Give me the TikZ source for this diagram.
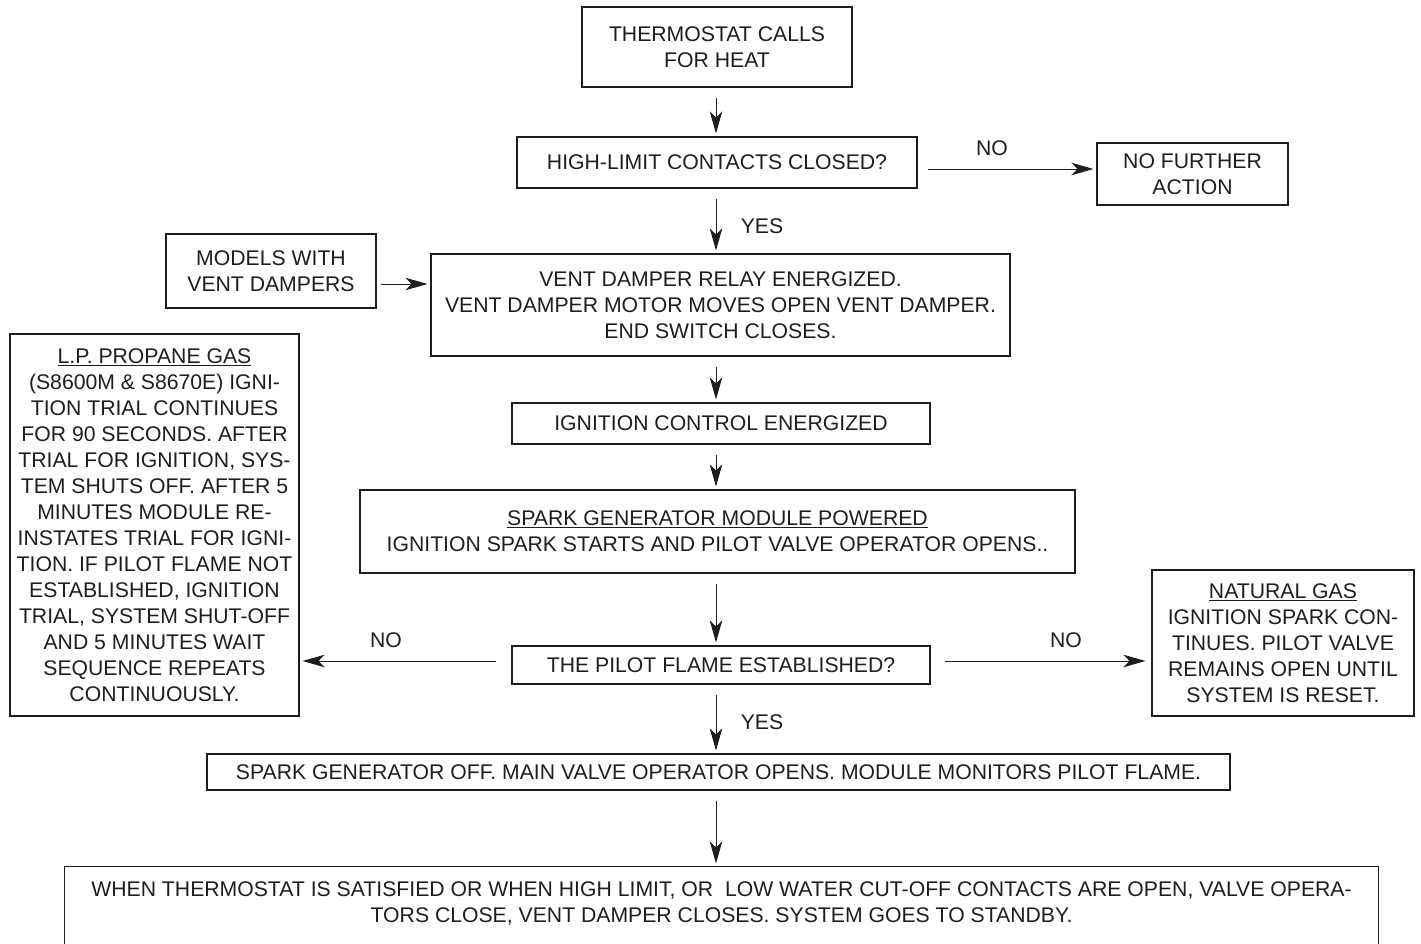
\documentclass[tikz,border=0pt]{standalone}
\usepackage{fontspec}
\setmainfont{Liberation Sans}
\usetikzlibrary{arrows.meta}
\definecolor{ink}{HTML}{1E1E1E}
\tikzset{
  box/.style={draw=ink, line width=1.1pt, text=ink, align=center, inner sep=0pt,
    font=\fontsize{21.2}{26}\selectfont},
  lbl/.style={text=ink, inner sep=0pt, font=\fontsize{21.2}{26}\selectfont},
  arr/.style={draw=ink, line width=1pt, -{Stealth[length=22pt,width=12.5pt,inset=6pt]},
    shorten <=10pt, shorten >=3pt},
}
\begin{document}
\begin{tikzpicture}[x=1pt,y=-1pt]
\useasboundingbox (0,0) rectangle (1421,943);
\coordinate (ax) at (716,0);

\node[box, minimum width=270, minimum height=80] (th) at (717,47) {THERMOSTAT CALLS\\FOR HEAT};
\node[box, minimum width=400, minimum height=51] (hl) at (717,162.5) {HIGH-LIMIT CONTACTS CLOSED?};
\node[box, minimum width=191, minimum height=62] (nf) at (1192.5,174) {NO FURTHER\\ACTION};
\node[box, minimum width=210, minimum height=74] (md) at (271,271) {MODELS WITH\\VENT DAMPERS};
\node[box, minimum width=579, minimum height=102] (vd) at (720.5,305) {VENT DAMPER RELAY ENERGIZED.\\VENT DAMPER MOTOR MOVES OPEN VENT DAMPER.\\END SWITCH CLOSES.};
\node[box, minimum width=418, minimum height=41] (ic) at (721,423.5) {IGNITION CONTROL ENERGIZED};
\node[box, minimum width=715, minimum height=83] (sg) at (717.5,531.5) {\underline{SPARK GENERATOR MODULE POWERED}\\IGNITION SPARK STARTS AND PILOT VALVE OPERATOR OPENS..};
\node[box, minimum width=418, minimum height=38] (pf) at (721,665) {THE PILOT FLAME ESTABLISHED?};
\node[box, minimum width=289, minimum height=382] (lp) at (154.5,525) {\underline{L.P. PROPANE GAS}\\(S8600M \& S8670E) IGNI-\\TION TRIAL CONTINUES\\FOR 90 SECONDS. AFTER\\TRIAL FOR IGNITION, SYS-\\TEM SHUTS OFF. AFTER 5\\MINUTES MODULE RE-\\INSTATES TRIAL FOR IGNI-\\TION. IF PILOT FLAME NOT\\ESTABLISHED, IGNITION\\TRIAL, SYSTEM SHUT-OFF\\AND 5 MINUTES WAIT\\SEQUENCE REPEATS\\CONTINUOUSLY.};
\node[box, minimum width=262, minimum height=146] (ng) at (1283,643) {\underline{NATURAL GAS}\\IGNITION SPARK CON-\\TINUES. PILOT VALVE\\REMAINS OPEN UNTIL\\SYSTEM IS RESET.};
\node[box, minimum width=1023, minimum height=36] (so) at (718.5,772) {SPARK GENERATOR OFF. MAIN VALVE OPERATOR OPENS. MODULE MONITORS PILOT FLAME.};
\node[box, draw=none, minimum width=1313, minimum height=73] (fb) at (721.5,903.5) {WHEN THERMOSTAT IS SATISFIED OR WHEN HIGH LIMIT, OR\ \ LOW WATER CUT-OFF CONTACTS ARE OPEN, VALVE OPERA-\\TORS CLOSE, VENT DAMPER CLOSES. SYSTEM GOES TO STANDBY.};
\draw[ink, line width=1.1pt] ([yshift=-20pt]fb.south west) -- (fb.north west) -- (fb.north east) -- ([yshift=-20pt]fb.south east);

% vertical arrows
\draw[arr] (th.south -| ax) -- (hl.north -| ax);
\draw[arr] (hl.south -| ax) -- (vd.north -| ax);
\draw[arr] (vd.south -| ax) -- (ic.north -| ax);
\draw[arr] (ic.south -| ax) -- (sg.north -| ax);
\draw[arr] (sg.south -| ax) -- (pf.north -| ax);
\draw[arr] (pf.south -| ax) -- (so.north -| ax);
\draw[arr] (so.south -| ax) -- (fb.north -| ax);

% horizontal arrows
\draw[arr] ([yshift=-6.5pt]hl.east) -- ([yshift=-6.5pt]hl.east -| nf.west);
\draw[arr, shorten <=4pt] ([yshift=-13pt]md.east) -- ([yshift=-13pt]md.east -| vd.west);
\draw[arr, shorten <=15pt] ([yshift=4pt]pf.west) -- ([yshift=4pt]pf.west -| lp.east);
\draw[arr, shorten <=14pt, shorten >=6pt] ([yshift=4pt]pf.east) -- ([yshift=4pt]pf.east -| ng.west);

% labels
\node[lbl] (no1) at (992,148) {NO};
\node[lbl] (yes1) at (762,226) {YES};
\node[lbl] (no2) at (386,640) {NO};
\node[lbl] (no3) at (1066,640) {NO};
\node[lbl] (yes2) at (762,722) {YES};
\end{tikzpicture}
\end{document}
